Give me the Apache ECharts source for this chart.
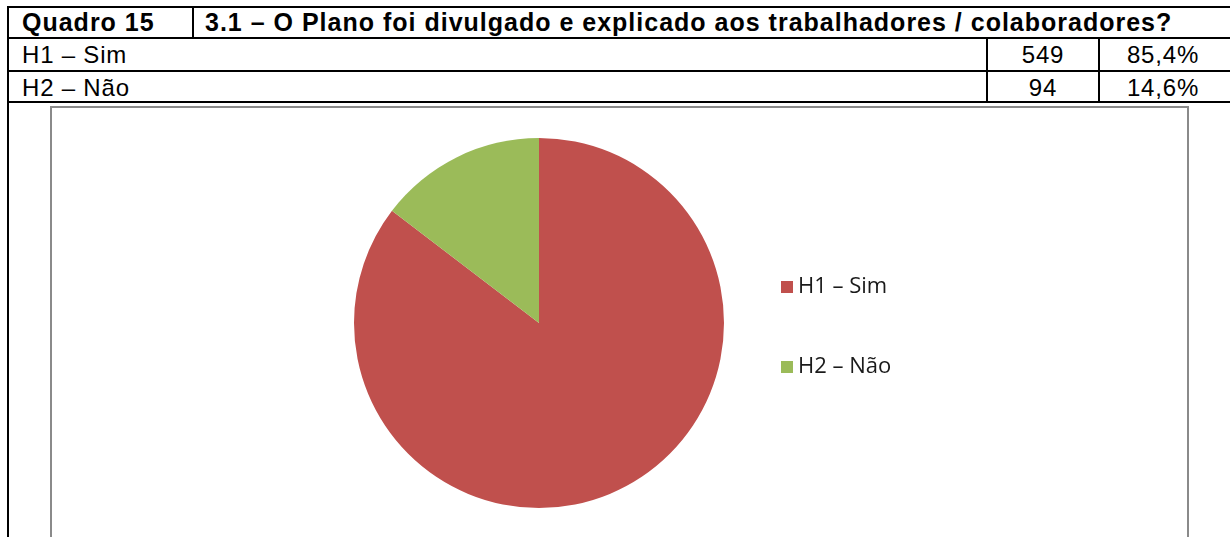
<!DOCTYPE html>
<html>
<head>
<meta charset="utf-8">
<script src="https://cdn.jsdelivr.net/npm/echarts@6/dist/echarts.min.js"></script>
<style>
  html, body { margin: 0; padding: 0; background: #fff; width: 1230px; height: 537px; overflow: hidden; }
  .page { position: relative; width: 1230px; height: 537px; font-family: "Liberation Sans", Arial, sans-serif; color: #000; }
  .hl { position: absolute; left: 7px; right: 0; height: 2px; background: #000; }
  .vl { position: absolute; width: 2px; background: #000; }
  .cell { position: absolute; white-space: nowrap; line-height: 31px; }
  .head { font-weight: bold; font-size: 25px; letter-spacing: 1px; }
  .body { font-size: 24px; letter-spacing: 0.8px; }
  .num { text-align: center; }
  .frame { position: absolute; left: 50px; top: 106px; width: 1135px; height: 500px; border: 2px solid #8a8a8a; }
  #chart { width: 1135px; height: 429px; }
</style>
</head>
<body>
<div class="page" id="page">
  <!-- table rules -->
  <div class="hl" style="top:6px"></div>
  <div class="hl" style="top:37px"></div>
  <div class="hl" style="top:70px"></div>
  <div class="hl" style="top:101px"></div>
  <div class="vl" style="left:7px; top:6px; height:531px"></div>
  <div class="vl" style="left:192px; top:6px; height:33px"></div>
  <div class="vl" style="left:986px; top:37px; height:66px"></div>
  <div class="vl" style="left:1098px; top:37px; height:66px"></div>

  <div class="cell head" id="quadro" style="left:22px; top:7px"></div>
  <div class="cell head" id="question" style="left:205px; top:7px"></div>
  <div id="rows"></div>

  <div class="frame"><div id="chart"></div></div>
</div>

<script>
// dados do quadro
const quadro = 'Quadro 15'
const pergunta = '3.1 – O Plano foi divulgado e explicado aos trabalhadores / colaboradores?'
const categorias = ['H1 – Sim', 'H2 – Não']
const respostas = [549, 94]
const percentagens = ['85,4%', '14,6%']
const cores = ['#C0504D', '#9BBB59']

document.getElementById('quadro').textContent = quadro
document.getElementById('question').textContent = pergunta

// linhas da tabela
const rows = document.getElementById('rows')
categorias.forEach((c, i) => {
  const top = 39 + i * 33
  rows.insertAdjacentHTML('beforeend',
    `<div class="cell body" style="left:22px; top:${top}px">${c}</div>` +
    `<div class="cell body num" style="left:988px; width:110px; top:${top}px">${respostas[i]}</div>` +
    `<div class="cell body num" style="left:1100px; width:126px; top:${top}px">${percentagens[i]}</div>`)
})

const chart = echarts.init(document.getElementById('chart'))
chart.setOption({
  animation: false,
  color: cores,
  legend: {
    orient: 'vertical',
    left: 729,
    top: 168,
    padding: 0,
    itemWidth: 12,
    itemHeight: 12,
    itemGap: 58,
    icon: 'rect',
    textStyle: { fontFamily: 'Open Sans', fontSize: 22, color: '#1a1a1a', lineHeight: 18 },
    data: categorias
  },
  series: [{
    type: 'pie',
    center: [487, 215],
    radius: 185,
    startAngle: 90,
    clockwise: true,
    label: { show: false },
    labelLine: { show: false },
    emphasis: { disabled: true },
    itemStyle: { borderWidth: 0 },
    data: categorias.map((c, i) => ({ name: c, value: respostas[i] }))
  }]
})
</script>
</body>
</html>
